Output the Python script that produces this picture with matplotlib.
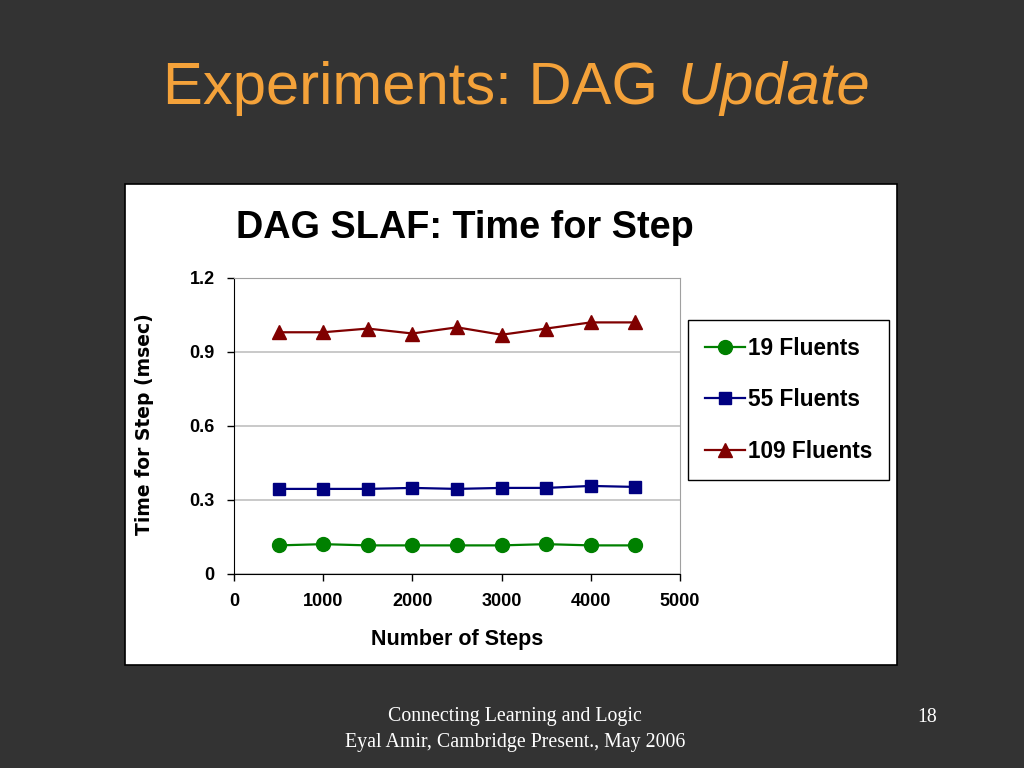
import matplotlib.pyplot as plt
from matplotlib.patches import Rectangle

# data
steps = [500, 1000, 1500, 2000, 2500, 3000, 3500, 4000, 4500]
f19 = [0.116, 0.121, 0.116, 0.116, 0.116, 0.116, 0.121, 0.116, 0.116]
f55 = [0.345, 0.345, 0.345, 0.349, 0.345, 0.349, 0.349, 0.357, 0.353]
f109 = [0.98, 0.98, 0.995, 0.975, 1.0, 0.97, 0.995, 1.02, 1.02]
labels = ["19 Fluents", "55 Fluents", "109 Fluents"]

W, H = 1024, 768
BG = "#333333"
ORANGE = "#F4A23A"

fig = plt.figure(figsize=(W / 100, H / 100), dpi=100, facecolor=BG)

# white chart panel (as a background axes)
bg = fig.add_axes([0, 0, 1, 1], zorder=-1)
bg.set_xlim(0, W)
bg.set_ylim(H, 0)
bg.axis("off")
bg.add_patch(Rectangle((125, 184), 897 - 125, 665 - 184, facecolor="white",
                       edgecolor="black", linewidth=1.2))

# slide title
t1 = fig.text(163 / W, 1 - 88 / H, "Experiments: DAG", color=ORANGE, fontsize=43,
              family="Liberation Sans", ha="left", va="center")
fig.canvas.draw()
ext = t1.get_window_extent()
fig.text((ext.x1 + 20) / W, 1 - 88 / H, "Update", color=ORANGE, fontsize=43,
         family="Liberation Sans", style="italic", ha="left", va="center")

fig.text(465 / W, 1 - 228 / H, "DAG SLAF: Time for Step", fontsize=27.3,
         weight="bold", family="Liberation Sans", ha="center", va="center")

ax = fig.add_axes([234 / W, 1 - 574 / H, 446 / W, 296 / H])
ax.set_facecolor("white")

series = [
    (f19, "#008000", "o", 10),
    (f55, "#000080", "s", 8.5),
    (f109, "#800000", "^", 10),
]
for (ys, c, m, ms), lab in zip(series, labels):
    ax.plot(steps, ys, color=c, marker=m, markersize=ms, linewidth=1.6, label=lab)

ax.set_xlim(0, 5000)
ax.set_ylim(0, 1.2)
ax.set_xticks([0, 1000, 2000, 3000, 4000, 5000])
ax.set_yticks([0, 0.3, 0.6, 0.9, 1.2])
ax.set_yticklabels(["0", "0.3", "0.6", "0.9", "1.2"])
ax.yaxis.grid(True, color="#C0C0C0", linewidth=1.2)
ax.set_axisbelow(True)
for s in ["top", "right"]:
    ax.spines[s].set_color("#A0A0A0")
for s in ["left", "bottom"]:
    ax.spines[s].set_color("black")
ax.tick_params(direction="out", length=5, width=1, pad=9)
for t in ax.get_xticklabels() + ax.get_yticklabels():
    t.set_fontsize(13)
    t.set_fontweight("bold")
    t.set_family("Liberation Sans")

ax.set_xlabel("Number of Steps", fontsize=15.5, weight="bold",
              family="Liberation Sans", labelpad=13)
fig.text(145 / W, 1 - 424 / H, "Time for Step (msec)", fontsize=13.5, weight="bold",
         family="DejaVu Sans", rotation=90, ha="center", va="center")

leg = fig.legend(loc="upper left", bbox_to_anchor=(688 / W, 1 - 320 / H),
                 prop={"family": "Liberation Sans", "weight": "bold", "size": 16.3},
                 frameon=True, fancybox=False, edgecolor="black", framealpha=1,
                 handlelength=1.75, handletextpad=0.15, labelspacing=1.25,
                 borderpad=0.75, borderaxespad=0)
leg.get_frame().set_linewidth(1.0)

# footer
fig.text(515 / W, 1 - 717 / H, "Connecting Learning and Logic", color="white",
         fontsize=14.3, family="Liberation Serif", ha="center", va="center")
fig.text(515 / W, 1 - 742 / H, "Eyal Amir, Cambridge Present., May 2006", color="white",
         fontsize=14.3, family="Liberation Serif", ha="center", va="center")
fig.text(927 / W, 1 - 717 / H, "18", color="white",
         fontsize=14.3, family="Liberation Serif", ha="center", va="center")

fig.savefig("out.png", dpi=100, facecolor=BG)
